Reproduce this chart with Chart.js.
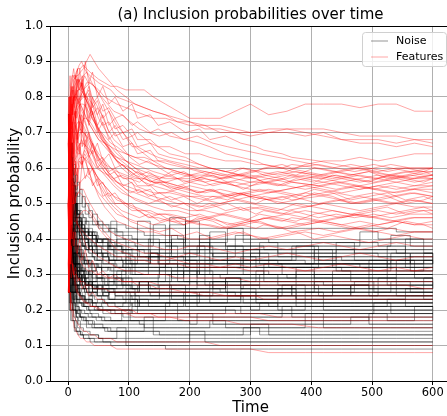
<!DOCTYPE html>
<html>
<head>
<meta charset="utf-8">
<script src="https://cdn.jsdelivr.net/npm/chart.js@4.4.1/dist/chart.umd.min.js"></script>
<style>
  html, body { margin: 0; padding: 0; background: #fff; overflow: hidden; }
  #wrap { width: 452px; height: 416px; }
</style>
</head>
<body>
<div id="wrap"><canvas id="probs" width="452" height="416"></canvas></div>
<script>
// three time grids, so the runs do not all jump at the same x
const timesA = [0,1,2,3,4,6,8,10,13,16, 20,25,30,36,43,50,60,70,80,95,
  110,125,140,160,180,200,225,250,275,300, 330,360,390,420,450,480,510,540,570,600];
const timesB = [0,1,2,3,5,7,9,11,14,18, 22,27,33,39,46,55,65,75,88,102,
  117,132,150,170,190,212,238,262,288,315, 345,375,405,435,465,495,525,555,585,600];
const timesC = [0,1,2,4,5,7,9,12,15,19, 23,28,34,40,48,57,67,77,90,105,
  114,135,148,167,193,216,233,259,284,309, 322,352,368,412,441,471,503,531,563,600];

const xTicks = [0, 100, 200, 300, 400, 500, 600];
const yTicks = [0, 0.1, 0.2, 0.3, 0.4, 0.5, 0.6, 0.7, 0.8, 0.9, 1.0];

// inclusion probabilities in percent, one row per noise variable
const noiseA = [
  [50,33,25,25,20,20,17,17,14,14, 13,12,12,11,11,11,11,10,10,10, 10,10,10,9,9,9,9,9,9,9, 9,9,9,9,9,9,9,9,9,9],
  [33,25,25,20,20,17,17,15,14,13, 13,12,12,12,11,11,11,11,11,10, 10,10,10,10,10,10,10,10,10,10, 10,10,10,10,10,10,10,10,10,10],
  [50,50,33,33,25,25,20,20,18,16, 15,14,14,13,13,12,12,12,12,11, 11,11,11,11,11,14,11,11,11,11, 11,11,11,11,11,11,11,11,11,11],
  [25,25,20,20,17,17,17,14,14,14, 13,13,13,13,13,12,12,12,15,12, 12,12,12,12,12,12,12,12,12,12, 12,12,12,12,12,12,12,12,12,12],
  [67,50,50,40,33,33,29,25,22,20, 18,17,16,16,15,15,14,14,14,14, 14,14,13,13,13,13,13,13,13,16, 13,13,13,13,13,13,13,13,13,13],
  [33,33,33,25,25,22,20,20,18,17, 16,16,15,15,15,15,15,14,14,14, 14,18,14,14,14,14,14,14,14,14, 14,14,14,14,14,14,14,14,14,14],
  [50,40,33,33,29,25,25,22,20,19, 18,18,17,17,16,16,16,16,16,16, 16,15,15,15,15,15,15,15,15,15, 15,15,19,15,15,15,15,15,15,15],
  [75,60,50,50,43,38,33,30,27,25, 23,21,20,19,19,18,18,17,17,17, 17,17,17,17,17,16,16,16,16,16, 16,16,16,16,16,16,16,16,16,16],
  [25,25,25,25,22,20,20,20,18,18, 18,18,18,18,18,18,17,17,17,17, 17,17,17,22,17,17,17,17,17,17, 17,17,17,17,17,17,17,17,21,17],
  [50,50,50,40,40,33,33,29,27,25, 24,23,22,21,21,20,20,19,19,19, 19,19,19,19,19,18,18,18,18,18, 18,18,18,18,18,18,18,18,18,18],
  [33,25,33,33,29,29,25,25,23,22, 22,21,21,21,20,20,20,20,20,20, 20,20,20,20,20,20,20,20,19,19, 19,19,19,19,19,19,19,19,19,19],
  [67,67,50,50,43,40,36,33,30,28, 27,26,25,24,23,23,22,22,22,22, 21,21,21,21,21,21,21,21,21,20, 20,20,25,20,20,20,20,20,20,20],
  [50,33,33,25,25,25,25,25,23,23, 23,23,23,22,22,22,22,22,22,22, 22,22,22,22,22,22,22,22,22,22, 21,21,21,21,21,21,21,21,21,21],
  [25,25,25,25,25,25,22,22,22,22, 22,22,22,22,22,22,22,22,22,26, 22,22,22,22,22,22,22,22,22,22, 22,22,22,22,22,22,22,22,22,22],
  [75,75,67,60,50,50,44,40,36,33, 31,29,28,27,26,26,25,25,25,25, 24,24,24,24,24,24,24,24,24,23, 23,23,23,23,23,23,23,23,23,23],
  [33,33,33,33,33,29,29,27,27,26, 26,26,25,25,25,25,25,25,25,25, 25,25,25,25,25,25,25,25,24,24, 24,24,24,24,24,24,29,24,24,24],
  [50,50,40,40,33,33,33,30,30,29, 28,28,27,27,27,26,26,26,26,26, 26,26,26,26,26,26,26,25,25,25, 25,25,25,25,25,25,25,25,25,25],
  [25,33,33,33,29,29,29,27,27,27, 27,26,26,26,26,26,26,26,31,26, 26,26,26,26,26,26,26,26,26,26, 26,26,25,25,25,25,25,25,25,25],
  [67,50,50,50,43,43,38,36,33,31, 30,29,29,28,28,28,27,27,27,27, 27,27,27,27,27,27,27,27,27,27, 27,27,26,26,26,26,26,26,26,26],
  [33,33,25,25,25,25,25,25,27,27, 27,27,27,27,27,27,27,27,27,27, 27,27,27,27,27,32,27,27,27,27, 27,27,27,27,27,27,27,27,27,27],
  [50,50,50,50,43,43,38,36,33,32, 31,30,30,29,29,29,28,28,28,28, 28,28,28,28,28,28,28,28,28,28, 28,28,28,27,27,27,27,27,27,27],
  [50,40,40,33,33,29,29,29,28,28, 28,28,28,28,28,28,28,28,28,28, 28,28,28,33,28,28,28,28,28,28, 28,28,28,28,28,28,28,28,28,28],
  [75,67,60,50,50,44,40,38,35,33, 32,31,31,30,30,30,30,30,30,30, 30,30,30,30,30,30,30,29,29,29, 29,29,29,29,29,29,29,34,29,29],
  [33,33,33,33,33,33,33,33,31,31, 31,31,30,30,30,30,30,30,30,35, 30,30,30,30,30,30,30,30,30,30, 30,29,29,29,29,29,29,29,29,29],
  [50,50,50,50,50,44,40,38,36,35, 34,33,33,32,32,32,32,31,31,31, 31,31,31,31,31,31,31,31,31,31, 30,30,30,30,30,30,30,30,30,30],
  [67,67,67,60,57,50,44,40,38,36, 35,34,34,33,33,33,33,33,32,32, 32,32,32,32,32,37,32,32,32,32, 32,32,32,32,31,31,31,31,31,31],
  [25,25,33,33,33,33,33,33,33,33, 33,33,33,33,32,32,32,32,32,32, 32,32,32,32,32,32,32,32,32,36, 32,32,32,32,32,32,32,31,31,31],
  [50,50,50,50,50,50,50,44,40,38, 37,36,35,35,34,34,34,34,34,33, 33,33,33,33,33,33,33,33,33,33, 33,33,33,33,33,32,32,32,32,32],
  [33,50,50,50,43,43,43,40,38,37, 36,35,35,35,34,34,34,34,40,34, 34,34,34,34,34,34,34,34,34,34, 34,34,33,33,33,33,33,33,33,33],
  [67,67,60,60,57,50,50,45,42,40, 39,38,37,37,36,36,36,35,35,35, 35,35,35,35,35,35,35,35,41,35, 35,35,35,35,34,34,34,34,34,34],
  [50,50,50,50,50,50,50,50,45,43, 42,41,40,39,38,38,38,37,37,37, 37,36,36,36,36,36,36,36,36,36, 36,36,36,36,36,36,35,35,35,35],
  [75,75,75,75,67,60,56,50,46,44, 43,42,42,42,41,40,40,39,39,39, 38,38,44,38,38,38,37,37,37,37, 37,37,37,37,37,37,37,36,36,36],
  [50,67,67,67,67,60,56,50,47,46, 45,45,44,44,44,43,43,43,42,42, 42,41,41,41,40,40,40,40,40,40, 39,39,39,39,39,39,38,38,38,38],
  [33,33,33,33,33,40,40,40,40,38, 38,38,38,38,38,38,38,45,38,38, 38,38,38,38,38,38,38,38,38,38, 38,38,38,38,38,42,40,40,40,40],
  [75,75,67,67,67,67,60,55,50,48, 47,46,45,45,45,44,44,44,44,43, 43,43,43,43,43,43,43,43,43,43, 43,43,43,43,43,43,43,42,42,42],
  [50,50,50,50,50,50,44,40,38,36, 35,34,33,33,33,32,32,32,32,32, 32,32,32,38,32,32,32,32,32,32, 32,32,32,32,32,32,32,32,32,32]
];
const noiseB = [
  [50,33,50,40,33,43,38,33,36,30, 32,29,31,28,30,28,27,29,27,26, 28,26,27,26,26,31,26,26,27,26, 26,30,26,26,27,26,26,26,29,26],
  [33,50,40,50,43,38,44,40,36,38, 35,33,34,32,33,31,32,30,31,30, 30,35,30,30,31,30,30,34,30,30, 30,31,30,30,30,34,30,30,30,30],
  [25,33,25,40,33,29,25,27,25,23, 24,22,23,22,21,22,21,21,21,24, 21,21,21,21,25,21,21,21,21,21, 24,21,21,21,21,21,23,21,21,21],
  [75,67,60,67,57,50,55,50,46,42, 44,40,39,41,38,37,38,36,36,35, 35,35,39,35,34,34,34,38,34,34, 33,33,37,33,33,33,33,33,36,33],
  [67,50,60,50,50,43,40,42,38,35, 36,33,34,31,32,30,29,30,28,28, 28,28,28,31,28,27,27,27,27,30, 27,27,27,27,27,30,27,27,27,27],
  [50,50,40,33,43,38,33,36,31,29, 30,28,27,27,26,25,25,25,25,25, 28,25,24,24,24,24,28,24,24,24, 24,24,24,27,24,24,24,24,24,24],
  [33,25,33,29,25,22,25,23,21,20, 19,19,18,18,17,17,17,17,20,17, 16,16,16,16,16,19,16,16,16,16, 16,16,16,16,18,16,16,16,16,16],
  [50,67,57,50,57,50,45,48,44,41, 42,40,38,39,37,36,37,35,35,34, 34,40,34,34,34,33,33,33,37,33, 33,33,33,32,32,32,35,32,32,32],
  [25,25,33,29,33,30,27,25,27,25, 26,25,24,25,24,24,23,23,23,23, 23,23,26,23,23,23,23,23,23,23, 26,23,23,23,23,23,23,26,23,23],
  [67,75,67,60,67,57,50,53,47,45, 43,42,41,42,40,39,38,38,37,37, 36,36,36,40,36,36,35,35,35,39, 35,35,35,35,35,35,38,35,35,35],
  [33,33,25,25,29,25,22,20,19,18, 17,17,16,15,15,15,14,14,14,14, 14,14,13,13,13,13,13,13,15,13, 13,13,13,13,13,13,13,13,13,13],
  [50,40,50,43,38,44,40,36,38,35, 33,34,32,31,32,30,30,29,29,29, 29,29,29,29,33,29,29,29,29,29, 29,32,29,29,29,29,29,29,29,29]
];
const noiseC = [
  [33,50,40,33,38,33,36,31,29,30, 28,29,27,28,26,27,26,26,29,26, 25,25,25,25,25,25,28,25,25,25, 25,25,25,25,25,28,25,25,25,25],
  [67,60,50,57,50,44,50,45,42,40, 38,39,37,36,36,35,34,34,33,33, 33,36,33,33,32,32,32,32,35,32, 32,32,32,32,31,31,31,34,31,31],
  [50,50,33,40,43,38,33,30,31,29, 28,27,27,26,26,26,25,25,25,25, 25,24,24,27,24,24,24,24,24,24, 24,24,27,24,24,24,24,24,24,24],
  [25,33,40,33,29,33,30,27,25,24, 23,22,22,21,20,20,20,19,19,22, 19,19,19,19,19,19,19,21,19,19, 19,19,19,19,19,19,19,19,19,19],
  [75,60,67,57,63,56,50,46,47,44, 42,41,42,40,39,39,38,38,37,37, 37,36,36,36,36,41,36,36,36,36, 36,36,36,36,39,36,36,36,36,36],
  [50,33,40,43,38,33,30,33,29,27, 28,26,25,25,24,24,23,23,23,23, 22,22,22,22,22,22,22,22,25,22, 22,22,22,22,22,22,22,22,22,22],
  [33,25,33,33,29,25,27,25,23,22, 21,21,20,20,20,19,19,19,18,18, 18,18,18,18,18,18,18,18,18,18, 18,21,18,18,18,18,18,18,18,18],
  [67,67,57,50,50,44,45,42,44,40, 38,37,38,36,35,35,34,34,34,33, 45,33,33,37,33,33,33,33,33,33, 33,33,33,33,33,33,33,36,33,33],
  [50,50,50,43,44,40,42,38,36,37, 35,34,33,33,32,32,31,31,31,30, 30,30,30,30,30,34,30,30,30,30, 30,30,30,30,30,30,30,30,30,30],
  [25,25,33,25,22,20,18,17,15,14, 13,13,12,12,12,11,11,11,11,11, 11,11,11,11,11,11,11,11,11,11, 11,11,11,11,11,11,11,11,11,11],
  [50,40,33,38,33,36,33,31,29,28, 27,27,26,26,27,26,26,26,26,26, 26,26,26,26,26,26,26,29,26,26, 26,26,26,26,26,26,26,26,26,28],
  [75,67,67,60,56,50,55,50,47,45, 43,42,41,40,39,40,39,38,38,38, 37,37,37,46,37,37,42,37,37,37, 37,37,37,37,37,37,37,37,37,37]
];
const noiseD = [
  [50,33,50,40,44,38,40,33,36,31, 33,29,31,28,29,27,28,27,27,26, 27,26,30,26,26,26,26,29,26,26, 26,26,26,26,26,26,26,26,26,26],
  [75,60,67,57,60,50,55,47,50,44, 46,41,43,39,40,37,38,36,37,35, 35,35,35,35,34,39,34,34,34,34, 34,34,34,34,37,34,34,34,34,34],
  [33,50,40,44,38,40,36,38,33,35, 31,32,30,31,29,30,28,29,28,28, 28,28,28,28,28,28,28,28,28,31, 28,28,28,28,28,28,28,28,28,28],
  [50,67,57,60,55,57,50,53,47,48, 44,45,41,42,39,40,37,37,36,36, 35,35,35,35,35,35,34,34,34,34, 34,34,38,34,34,34,34,34,34,34],
  [25,33,29,33,30,27,29,25,27,24, 25,23,24,22,23,22,22,21,22,21, 21,21,21,24,21,21,21,21,21,21, 21,21,21,21,21,21,21,21,21,21],
  [67,50,57,50,55,46,50,43,45,40, 41,37,38,35,36,33,34,32,33,31, 31,31,31,31,31,30,30,30,30,30, 33,30,30,30,30,30,30,30,30,30],
  [50,40,44,36,40,33,36,30,33,28, 30,27,28,25,26,24,25,24,24,23, 23,23,23,23,23,23,23,23,26,23, 23,23,23,23,23,23,23,23,23,23],
  [33,40,33,38,31,35,29,32,27,29, 26,27,25,26,24,25,23,24,23,23, 22,22,22,22,22,25,22,22,22,22, 22,22,22,22,22,22,22,22,22,22],
  [75,67,71,62,67,58,61,54,56,50, 52,47,48,44,45,42,43,41,41,40, 40,39,39,39,45,39,39,38,38,38, 38,38,38,38,38,38,38,41,38,38],
  [50,50,44,50,45,47,42,44,40,41, 38,39,36,37,34,35,33,33,32,32, 32,32,32,32,32,32,32,32,32,32, 32,32,32,35,32,32,32,32,32,32],
  [33,25,33,29,31,27,29,25,26,23, 24,22,23,21,21,20,20,20,20,19, 19,19,19,19,19,19,19,19,19,19, 19,19,19,19,19,19,22,19,19,19],
  [67,75,62,67,60,63,56,58,52,54, 49,50,46,47,44,44,42,42,40,40, 39,39,39,44,38,38,38,38,38,38, 37,37,37,37,37,37,37,37,37,37],
  [50,33,40,36,38,33,35,31,32,29, 30,27,28,26,27,26,26,25,25,25, 25,25,25,25,25,25,25,25,25,25, 25,25,25,25,25,25,25,28,25,25],
  [25,25,22,25,22,20,22,19,20,18, 18,17,17,16,16,15,15,15,15,15, 15,15,15,15,15,15,17,15,15,15, 15,15,15,15,15,15,15,15,15,15],
  [50,60,50,55,50,50,45,46,42,43, 40,40,37,38,35,36,34,34,33,33, 33,36,33,33,33,33,33,33,33,33, 33,33,33,33,33,33,33,33,36,33],
  [33,33,38,33,36,31,33,29,30,27, 28,26,27,25,26,24,25,24,24,24, 24,24,24,24,24,24,24,24,24,24, 24,27,24,24,24,24,24,24,24,24]
];
const noiseE = [
  [50,40,33,43,38,33,36,30,31,28, 29,27,28,26,27,26,26,25,25,25, 28,25,25,25,25,25,25,25,25,25, 25,25,28,25,25,25,25,25,25,25],
  [67,57,60,50,55,47,50,44,45,41, 42,39,40,37,37,35,36,34,34,33, 33,33,33,33,33,33,36,33,33,33, 33,33,33,33,33,33,33,33,33,33],
  [33,40,33,38,33,36,31,33,29,30, 28,28,27,27,26,26,25,25,25,24, 24,24,24,24,24,24,24,24,24,24, 24,24,24,24,27,24,24,24,24,24],
  [50,60,50,57,50,53,47,48,44,45, 42,42,40,40,38,38,37,37,36,36, 35,35,35,35,35,38,35,35,35,35, 35,35,35,35,35,35,35,35,35,35],
  [25,33,29,25,27,25,23,24,22,22, 21,21,20,20,20,20,20,20,20,20, 20,20,20,20,20,20,20,20,20,22, 20,20,20,20,20,20,20,20,20,20],
  [75,67,60,63,57,55,50,50,46,46, 43,43,41,41,39,39,38,38,37,37, 37,37,37,41,37,37,37,37,37,37, 36,36,36,36,36,36,36,40,36,36],
  [50,50,43,44,40,40,36,36,33,33, 31,31,30,30,29,29,28,28,28,28, 28,28,28,28,28,28,28,28,28,28, 28,28,28,31,28,28,28,28,28,28],
  [33,33,29,33,30,27,28,25,26,24, 24,23,23,22,22,22,22,22,22,22, 22,22,22,22,22,22,22,24,22,22, 22,22,22,22,22,22,22,22,22,22],
  [67,60,57,55,50,50,46,46,43,42, 40,40,38,38,36,36,35,35,34,34, 34,34,34,34,34,34,34,34,34,34, 34,38,34,34,34,34,34,34,34,34],
  [50,43,44,40,40,36,36,33,33,31, 31,30,30,29,29,29,29,29,29,29, 29,29,32,29,29,29,29,29,29,29, 29,29,29,29,29,29,29,29,29,29],
  [25,29,25,27,25,23,23,21,21,20, 20,19,19,18,18,17,17,17,17,17, 17,17,17,17,17,17,17,17,17,17, 17,17,17,17,17,19,17,17,17,17],
  [50,57,50,50,46,46,43,42,40,39, 38,37,36,35,34,33,33,32,32,31, 31,31,31,31,31,31,31,31,31,31, 31,31,31,31,31,31,31,31,34,31],
  [33,38,33,33,30,30,28,28,27,26, 26,25,25,24,24,23,23,23,23,23, 23,23,23,23,23,23,23,23,23,23, 26,23,23,23,23,23,23,23,23,23],
  [75,71,67,63,60,56,53,50,48,46, 44,43,42,41,40,40,39,39,39,39, 39,39,39,39,39,39,39,43,39,39, 39,39,39,39,39,39,39,39,39,39],
  [50,44,40,40,36,36,33,33,31,30, 29,28,28,27,27,27,27,27,27,27, 27,27,27,27,27,27,27,27,27,27, 27,27,27,27,27,27,27,27,27,27],
  [33,29,33,30,27,27,25,25,23,22, 22,21,21,21,21,21,21,21,21,21, 23,21,21,21,21,21,21,21,21,21, 21,21,21,21,21,21,21,21,21,21]
];

// inclusion probabilities in percent, one row per true feature
const featuresA = [
  [50,67,75,80,80,83,86,85,87,88, 88,89,88,87,86,85,84,83,83,82, 82,82,80,78,76,74,74,74,76,78, 75,76,78,78,78,77,78,78,76,76],
  [33,50,60,67,71,75,78,80,82,84, 85,86,87,86,85,84,83,82,80,79, 78,77,76,75,74,73,72,72,71,70, 70,71,71,71,70,69,69,69,68,68],
  [50,50,60,67,67,71,73,75,77,79, 80,82,84,84,83,82,80,79,78,77, 76,75,74,74,73,73,71,71,70,69, 70,70,69,70,68,68,68,67,68,67],
  [67,75,75,80,80,82,83,84,86,86, 87,88,90,92,90,88,86,84,82,80, 78,77,76,75,73,72,72,70,70,70, 71,71,70,69,68,67,67,66,67,66],
  [50,60,67,71,75,78,80,80,81,80, 78,76,74,72,70,68,66,64,63,62, 61,60,59,58,57,57,56,57,58,57, 58,59,61,62,62,63,62,63,64,64],
  [50,50,67,67,71,75,78,80,80,79, 78,76,74,72,70,68,67,66,65,64, 63,63,62,62,61,60,59,58,58,59, 60,60,59,58,59,60,59,60,60,60],
  [33,50,50,60,67,67,70,73,75,77, 78,78,77,75,73,71,69,67,66,64, 63,62,61,60,59,58,58,57,58,58, 57,56,57,58,57,56,57,58,57,58],
  [67,67,75,75,80,80,82,83,84,85, 84,82,80,77,74,71,68,66,64,62, 60,59,58,57,57,56,55,56,56,55, 56,55,54,55,56,55,56,57,56,57],
  [50,40,50,50,57,60,64,67,69,70, 71,70,69,67,65,63,61,60,59,58, 57,57,56,56,55,56,57,56,55,54, 53,54,55,54,53,54,55,54,55,55],
  [25,33,40,50,57,60,60,63,66,68, 70,70,69,68,66,64,62,60,58,57, 55,54,53,53,54,55,54,53,52,53, 54,53,52,53,54,55,54,53,54,53],
  [50,60,67,67,67,71,73,75,77,78, 79,80,80,79,77,74,71,68,65,62, 60,58,56,55,54,53,52,52,53,52, 51,52,53,52,51,52,51,52,53,52],
  [75,75,80,80,83,86,86,86,86,85, 83,81,79,76,73,70,67,64,62,60, 58,56,55,54,53,52,51,50,51,52, 51,50,49,50,51,50,51,50,51,50],
  [33,33,50,50,50,56,60,62,64,66, 67,67,66,65,63,61,59,57,56,55, 54,53,52,51,50,50,49,50,51,50, 49,48,49,50,49,48,49,50,49,49],
  [67,75,75,75,75,78,80,80,80,79, 77,75,72,69,66,63,60,58,56,54, 53,52,51,50,49,48,48,47,48,49, 48,47,48,47,46,47,48,47,48,48],
  [50,50,50,57,63,67,67,70,72,73, 73,72,70,68,65,62,59,57,55,53, 51,50,49,48,48,47,46,47,46,45, 46,47,46,45,46,47,46,45,46,46],
  [25,25,33,40,50,50,55,58,60,62, 63,63,62,61,59,57,55,53,51,50, 49,48,47,47,46,45,46,45,44,45, 46,45,44,45,44,45,44,45,44,45],
  [50,67,67,75,75,75,78,80,81,82, 82,81,79,77,74,71,68,65,62,60, 58,57,56,56,57,58,59,58,57,56, 56,57,58,57,56,57,58,57,58,59],
  [33,50,50,57,57,60,63,65,68,70, 72,74,74,73,71,69,67,65,63,61, 59,58,57,56,55,54,53,54,53,52, 53,54,55,56,55,54,55,56,55,56],
  [67,67,67,67,71,71,73,75,76,78, 80,82,83,84,83,81,78,75,72,69, 66,64,62,60,59,58,57,56,55,56, 57,58,57,56,57,58,57,56,57,57],
  [50,50,50,50,57,57,60,62,63,64, 64,63,61,58,55,52,49,47,45,44, 43,42,42,41,41,40,40,41,42,41, 40,41,42,41,42,43,42,41,42,42],
  [33,33,40,40,43,50,50,50,52,53, 54,54,52,50,48,46,44,42,41,40, 39,38,38,37,37,38,38,37,36,37, 38,37,38,39,38,37,38,39,38,38],
  [50,40,40,33,33,38,40,42,44,46, 47,48,48,47,45,43,41,39,37,36, 35,35,34,34,35,36,35,34,35,34, 35,36,35,34,35,36,35,34,35,35],
  [25,33,33,33,40,44,50,50,52,53, 53,52,50,48,46,44,42,40,39,38, 37,36,36,35,34,33,33,32,33,32, 33,32,31,32,33,32,31,32,31,32],
  [67,67,67,60,60,56,56,55,55,55, 56,57,58,57,55,53,51,49,47,46, 45,45,44,45,46,45,44,43,44,45, 44,43,44,45,44,43,44,45,44,44],
  [50,33,25,25,20,20,17,15,14,13, 12,12,11,11,10,10,10,10,9,9, 9,9,9,9,9,9,9,9,9,9, 8,8,8,8,8,8,8,8,8,8],
  [33,33,25,25,25,22,20,18,17,16, 15,14,14,13,13,12,12,12,11,11, 11,11,11,11,11,11,11,10,10,10, 10,10,10,10,10,10,10,10,10,10],
  [50,50,40,40,40,33,30,30,27,25, 24,23,22,21,21,20,20,19,19,19, 18,18,18,18,18,18,18,18,18,18, 17,17,17,17,17,17,17,17,17,17],
  [25,25,33,33,33,33,33,30,30,29, 28,28,27,27,26,26,26,25,25,25, 25,25,25,25,25,25,24,24,24,24, 24,24,24,24,24,24,24,24,24,24],
  [67,67,60,60,57,56,50,50,46,44, 42,40,38,37,36,35,34,33,32,31, 31,30,30,30,29,29,29,29,29,28, 28,28,28,28,28,28,28,28,28,28],
  [50,50,50,50,50,50,50,45,45,44, 43,42,41,40,39,38,37,36,35,35, 34,34,33,33,33,32,32,32,32,31, 31,31,31,31,31,31,31,31,31,31]
];
const featuresB = [
  [50,67,60,75,80,75,83,80,85,82, 84,80,78,74,72,68,66,63,61,60, 58,59,57,58,56,57,55,56,54,56, 55,57,56,58,57,56,58,57,56,57],
  [33,50,60,57,67,71,67,73,76,72, 75,73,70,67,64,61,59,57,55,53, 54,52,53,51,52,50,52,51,53,52, 50,51,53,52,50,51,52,50,51,52],
  [67,60,67,75,71,78,80,77,82,85, 83,86,84,80,78,75,71,68,66,63, 61,62,60,58,59,57,58,56,57,58, 59,58,60,59,58,59,57,58,59,58],
  [25,33,40,50,44,50,56,60,58,62, 61,64,62,60,58,55,52,50,48,47, 46,47,45,46,44,45,46,44,45,47, 46,45,47,48,47,46,47,48,49,48],
  [50,50,57,63,67,70,73,76,74,78, 80,81,79,76,72,69,66,63,60,58, 57,55,56,54,55,53,54,52,53,54, 53,52,54,53,51,52,53,51,52,51],
  [75,80,83,86,80,82,78,80,77,75, 73,70,67,64,61,59,57,55,53,52, 51,50,51,49,50,48,49,50,48,49, 48,50,49,48,47,48,49,47,48,47],
  [50,40,50,57,50,56,60,58,62,66, 68,66,64,61,58,56,54,52,51,49, 48,46,47,45,44,46,45,43,44,45, 43,44,45,44,43,44,43,45,44,43],
  [33,40,50,43,50,55,50,54,57,60, 63,65,63,60,57,54,51,49,47,45, 44,43,42,43,41,42,40,41,42,40, 41,42,40,41,40,39,40,41,40,40],
  [67,67,75,80,83,86,88,85,87,89, 90,88,86,84,82,80,78,76,75,73, 71,70,69,70,68,69,67,66,65,64, 63,62,61,60,61,60,59,60,59,60],
  [50,57,50,60,67,63,70,73,70,72, 70,67,64,62,60,59,58,57,58,57, 56,58,57,59,58,57,59,58,60,59, 58,59,58,57,58,59,58,59,58,58],
  [25,33,25,33,29,33,30,27,25,24, 23,22,22,21,21,20,20,20,20,19, 19,19,19,19,19,19,19,19,19,19, 18,18,18,18,18,18,18,18,18,18],
  [50,50,43,50,44,40,42,38,36,35, 33,32,31,31,30,30,29,29,28,28, 28,28,27,27,27,27,27,27,27,27, 27,27,27,27,27,27,27,27,26,26]
];
const featuresC = [
  [67,75,60,80,67,83,75,86,78,88, 82,90,84,87,80,83,78,80,76,78, 74,75,72,73,70,71,68,69,67,66, 65,64,63,62,61,60,61,60,59,60],
  [50,67,75,60,80,71,82,74,85,79, 86,80,83,78,80,76,77,74,75,72, 73,70,71,69,68,67,66,64,63,62, 61,60,61,60,59,60,59,58,59,59],
  [33,50,40,60,50,67,60,72,65,75, 70,78,72,76,70,73,68,70,66,67, 64,65,62,61,60,59,58,57,58,57, 56,57,56,55,56,55,54,55,54,55],
  [75,67,80,71,83,75,85,79,88,82, 85,80,82,77,79,74,76,71,72,69, 70,67,66,64,63,61,60,59,58,57, 56,55,56,55,54,55,54,53,54,54],
  [50,40,57,50,63,56,67,60,70,64, 72,66,70,64,67,62,64,60,61,58, 59,56,57,55,54,53,54,52,53,51, 52,51,52,50,51,50,51,50,51,50],
  [25,40,33,50,44,56,50,62,56,66, 60,68,63,65,60,62,58,59,55,56, 53,54,51,52,50,49,50,48,49,47, 48,47,48,46,47,46,47,46,47,47],
  [67,60,75,67,78,70,80,73,82,76, 84,78,81,75,77,72,73,69,70,66, 66,64,63,62,61,60,60,59,60,59, 60,61,60,61,60,59,60,61,60,60],
  [50,60,50,67,57,71,64,75,68,78, 72,80,74,78,72,75,70,72,68,69, 66,67,64,63,62,61,60,59,58,59, 58,57,58,57,58,57,56,57,58,57],
  [33,25,40,33,50,44,55,50,60,54, 62,57,60,55,57,52,53,50,50,48, 48,46,46,45,45,44,44,43,44,43, 44,43,42,43,42,43,42,43,42,42],
  [75,80,67,80,71,78,70,76,68,73, 66,70,64,67,62,63,59,60,57,57, 55,55,53,53,52,52,51,52,51,50, 51,52,51,52,53,52,53,52,53,52],
  [50,50,60,67,60,70,63,73,67,76, 70,78,73,80,75,78,72,74,70,71, 68,68,66,66,64,64,63,62,62,61, 61,60,59,58,59,58,57,58,57,58],
  [67,75,67,75,67,73,67,70,64,67, 61,63,58,60,55,56,52,53,50,50, 48,48,47,47,46,47,46,47,46,45, 46,45,46,45,46,47,46,45,46,46],
  [33,50,33,50,40,44,38,42,36,40, 34,37,32,34,30,31,29,30,28,28, 27,27,26,26,25,25,25,24,24,24, 23,23,23,23,23,23,23,23,23,23],
  [50,33,40,33,38,33,30,32,28,29, 26,27,24,25,23,23,21,21,20,20, 19,19,18,18,17,17,17,17,16,16, 16,16,16,15,15,15,15,15,15,15]
];

const seriesNames = ['Noise', 'Features'];
const noiseColor = 'rgba(0, 0, 0, 0.42)';
const featureColor = 'rgba(255, 0, 0, 0.35)';
const font = "'DejaVu Sans', sans-serif";

const datasets = [];
function addGroup(rows, times, color, stepped, order, name) {
  rows.forEach(row => datasets.push({
    label: name,
    data: row.map((v, i) => ({ x: times[i], y: v / 100 })),
    borderColor: color,
    borderWidth: 1,
    stepped: stepped,
    order: order
  }));
}
addGroup(noiseA, timesA, noiseColor, true, 1, seriesNames[0]);
addGroup(noiseB, timesB, noiseColor, true, 1, seriesNames[0]);
addGroup(noiseC, timesC, noiseColor, true, 1, seriesNames[0]);
addGroup(noiseD, timesC, noiseColor, true, 1, seriesNames[0]);
addGroup(noiseE, timesB, noiseColor, true, 1, seriesNames[0]);
addGroup(featuresA, timesA, featureColor, false, 0, seriesNames[1]);
addGroup(featuresB, timesB, featureColor, false, 0, seriesNames[1]);
addGroup(featuresC, timesC, featureColor, false, 0, seriesNames[1]);

// title, top spine and the boxed legend, matplotlib style
const decorations = {
  id: 'decorations',
  afterDraw(chart) {
    const ctx = chart.ctx;
    const a = chart.chartArea;
    ctx.save();
    ctx.strokeStyle = '#000';
    ctx.lineWidth = 1;
    ctx.beginPath();
    ctx.moveTo(a.left, Math.round(a.top) + 0.5);
    ctx.lineTo(a.right, Math.round(a.top) + 0.5);
    ctx.stroke();

    ctx.fillStyle = '#000';
    ctx.font = '15px ' + font;
    ctx.textAlign = 'center';
    ctx.textBaseline = 'middle';
    ctx.fillText('(a) Inclusion probabilities over time', (a.left + a.right) / 2, 15);

    // legend box
    const bx = 362, by = 32, bw = 84, bh = 34;
    ctx.fillStyle = 'rgba(255,255,255,0.8)';
    ctx.strokeStyle = '#d0d0d0';
    ctx.beginPath();
    ctx.roundRect(bx + 0.5, by + 0.5, bw, bh, 3);
    ctx.fill();
    ctx.stroke();
    const colors = [noiseColor, featureColor];
    ctx.font = '11px ' + font;
    ctx.textAlign = 'left';
    seriesNames.forEach((name, i) => {
      const y = by + 9 + i * 16;
      ctx.strokeStyle = colors[i];
      ctx.beginPath();
      ctx.moveTo(bx + 9, y);
      ctx.lineTo(bx + 26, y);
      ctx.stroke();
      ctx.fillStyle = '#000';
      ctx.fillText(name, bx + 34, y);
    });
    ctx.restore();
  }
};

new Chart(document.getElementById('probs'), {
  type: 'line',
  data: { datasets: datasets },
  options: {
    responsive: false,
    animation: false,
    parsing: false,
    normalized: true,
    elements: { point: { radius: 0 }, line: { tension: 0 } },
    layout: { padding: { top: 26, left: 0, right: 1, bottom: 0 } },
    plugins: {
      legend: { display: false },
      tooltip: { enabled: false },
      title: { display: false }
    },
    scales: {
      x: {
        type: 'linear',
        min: -30,
        max: 630,
        afterBuildTicks: axis => { axis.ticks = xTicks.map(v => ({ value: v })); },
        afterFit: axis => { axis.height = 35; },
        ticks: { color: '#000', font: { family: font, size: 11.5 }, padding: 1, maxRotation: 0 },
        grid: { color: '#b0b0b0', lineWidth: 1, tickColor: '#000', tickLength: 4 },
        border: { color: '#000', width: 1 },
        title: { display: true, text: 'Time', color: '#000',
          font: { family: font, size: 15, lineHeight: 1 }, padding: { top: 0.5, bottom: 0 } }
      },
      y: {
        min: 0,
        max: 1,
        afterBuildTicks: axis => { axis.ticks = yTicks.map(v => ({ value: v })); },
        afterFit: axis => { axis.width = 50; },
        ticks: { color: '#000', font: { family: font, size: 11.5 }, padding: 3,
          callback: v => v.toFixed(1) },
        grid: { color: '#b0b0b0', lineWidth: 1, tickColor: '#000', tickLength: 4 },
        border: { color: '#000', width: 1 },
        title: { display: true, text: 'Inclusion probability', color: '#000',
          font: { family: font, size: 15, lineHeight: 1 }, padding: { top: 8, bottom: 2 } }
      }
    }
  },
  plugins: [decorations]
});
</script>
</body>
</html>
